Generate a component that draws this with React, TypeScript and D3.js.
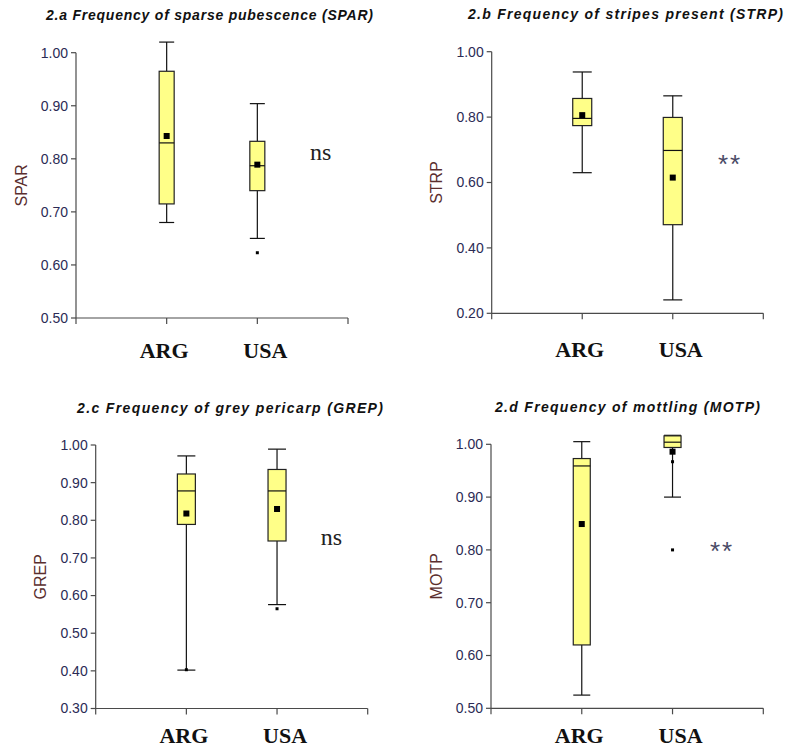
import React from "react";
import * as d3 from "d3";

// Box-plot summaries per population (ARG, USA) for each trait frequency.
type BoxStat = { low: number; q1: number; median: number; q3: number; high: number; mean: number; outliers: number[] };

const categories = ["ARG", "USA"];

const sparBoxes: BoxStat[] = [
  { low: 0.68, q1: 0.715, median: 0.83, q3: 0.965, high: 1.02, mean: 0.843, outliers: [] },
  { low: 0.65, q1: 0.74, median: 0.787, q3: 0.833, high: 0.904, mean: 0.789, outliers: [0.623] },
];
const strpBoxes: BoxStat[] = [
  { low: 0.63, q1: 0.774, median: 0.796, q3: 0.857, high: 0.938, mean: 0.806, outliers: [] },
  { low: 0.241, q1: 0.471, median: 0.698, q3: 0.799, high: 0.865, mean: 0.615, outliers: [] },
];
const grepBoxes: BoxStat[] = [
  { low: 0.402, q1: 0.789, median: 0.878, q3: 0.923, high: 0.971, mean: 0.818, outliers: [0.403] },
  { low: 0.576, q1: 0.745, median: 0.878, q3: 0.935, high: 0.989, mean: 0.83, outliers: [0.565] },
];
const motpBoxes: BoxStat[] = [
  { low: 0.525, q1: 0.62, median: 0.959, q3: 0.973, high: 1.005, mean: 0.849, outliers: [] },
  { low: 0.9, q1: 0.994, median: 1.004, q3: 1.016, high: 1.017, mean: 0.986, outliers: [0.967, 0.8] },
];

const sparTicks = [0.5, 0.6, 0.7, 0.8, 0.9, 1.0];
const strpTicks = [0.2, 0.4, 0.6, 0.8, 1.0];
const grepTicks = [0.3, 0.4, 0.5, 0.6, 0.7, 0.8, 0.9, 1.0];
const motpTicks = [0.5, 0.6, 0.7, 0.8, 0.9, 1.0];

const titles = [
  "2.a Frequency of sparse pubescence (SPAR)",
  "2.b Frequency of stripes present (STRP)",
  "2.c Frequency of grey pericarp (GREP)",
  "2.d Frequency of mottling (MOTP)",
];
const yLabels = ["SPAR", "STRP", "GREP", "MOTP"];
const significance = ["ns", "**", "ns", "**"];

// Panel geometry (pixels)
const layout = [
  { left: 76, right: 348, top: 52.7, bottom: 318, boxW: 15, titleX: 46, titleY: 20, titleW: 327, noteX: 310, noteY: 160, labelY: 358 },
  { left: 491.7, right: 763.3, top: 51.7, bottom: 313.3, boxW: 19, titleX: 468, titleY: 18.5, titleW: 315, noteX: 718, noteY: 160, labelY: 356.5 },
  { left: 95.7, right: 367.7, top: 445, bottom: 708.5, boxW: 18, titleX: 77, titleY: 413, titleW: 306, noteX: 320.7, noteY: 545, labelY: 743 },
  { left: 491, right: 763.3, top: 444.3, bottom: 708.3, boxW: 17, titleX: 495, titleY: 412, titleW: 265, noteX: 710, noteY: 547, labelY: 743 },
];

const panels = [
  { boxes: sparBoxes, ticks: sparTicks },
  { boxes: strpBoxes, ticks: strpTicks },
  { boxes: grepBoxes, ticks: grepTicks },
  { boxes: motpBoxes, ticks: motpTicks },
];

const labelNudge = [-2.5, 8];

const AXIS = "#4a4a4a";
const TICK_TEXT = "#2b2b55";
const YTITLE = "#5a2e2e";
const FILL = "#ffff88";

function Panel({ idx }: { idx: number }) {
  const g = layout[idx];
  const { boxes, ticks } = panels[idx];
  const y = d3
    .scaleLinear()
    .domain([ticks[0], ticks[ticks.length - 1]])
    .range([g.bottom, g.top]);
  const x = d3.scalePoint<string>().domain(categories).range([g.left, g.right]).padding(1);
  const fmt = d3.format(".2f");
  const note = significance[idx];

  return (
    <g>
      <text
        x={g.titleX}
        y={g.titleY}
        textLength={g.titleW}
        lengthAdjust="spacing"
        fontFamily="'Liberation Sans', Arial, sans-serif"
        fontWeight="bold"
        fontStyle="italic"
        fontSize={14}
        fill="#111"
      >
        {titles[idx]}
      </text>

      {/* y axis */}
      <line x1={g.left} x2={g.left} y1={g.top} y2={g.bottom + 6} stroke={AXIS} strokeWidth={1.2} />
      {ticks.map((t) => (
        <g key={t}>
          <line x1={g.left - 5} x2={g.left} y1={y(t)} y2={y(t)} stroke={AXIS} strokeWidth={1.2} />
          <text
            x={g.left - 8}
            y={y(t)}
            dy="0.35em"
            textAnchor="end"
            fontFamily="'Liberation Sans', Arial, sans-serif"
            fontSize={14}
            fill={TICK_TEXT}
          >
            {fmt(t)}
          </text>
        </g>
      ))}
      <text
        transform={`translate(${g.left - 55},${(g.top + g.bottom) / 2}) rotate(-90)`}
        textAnchor="middle"
        dy="0.35em"
        fontFamily="'Liberation Sans', Arial, sans-serif"
        fontSize={16}
        fill={YTITLE}
      >
        {yLabels[idx]}
      </text>

      {/* x axis */}
      <line x1={g.left} x2={g.right} y1={g.bottom} y2={g.bottom} stroke={AXIS} strokeWidth={1.2} />
      <line x1={g.right} x2={g.right} y1={g.bottom} y2={g.bottom + 6} stroke={AXIS} strokeWidth={1.2} />
      {categories.map((c, i) => (
        <g key={c}>
          <line x1={x(c)!} x2={x(c)!} y1={g.bottom} y2={g.bottom + 6} stroke={AXIS} strokeWidth={1.2} />
          <text
            x={x(c)! + labelNudge[i]}
            y={g.labelY}
            textAnchor="middle"
            fontFamily="'Liberation Serif', 'Times New Roman', serif"
            fontWeight="bold"
            fontSize={22}
            fill="#111"
          >
            {c}
          </text>
        </g>
      ))}

      {/* boxes */}
      {boxes.map((b, i) => {
        const cx = x(categories[i])!;
        const w = g.boxW;
        return (
          <g key={i}>
            <line x1={cx} x2={cx} y1={y(b.high)} y2={y(b.q3)} stroke="#111" strokeWidth={1.2} />
            <line x1={cx} x2={cx} y1={y(b.q1)} y2={y(b.low)} stroke="#111" strokeWidth={1.2} />
            <line x1={cx - w / 2} x2={cx + w / 2} y1={y(b.high)} y2={y(b.high)} stroke="#111" strokeWidth={1.2} />
            <line x1={cx - w / 2} x2={cx + w / 2} y1={y(b.low)} y2={y(b.low)} stroke="#111" strokeWidth={1.2} />
            <rect
              x={cx - w / 2}
              y={y(b.q3)}
              width={w}
              height={y(b.q1) - y(b.q3)}
              fill={FILL}
              stroke="#222"
              strokeWidth={1.2}
            />
            <line x1={cx - w / 2} x2={cx + w / 2} y1={y(b.median)} y2={y(b.median)} stroke="#111" strokeWidth={1.2} />
            <rect x={cx - 3} y={y(b.mean) - 3} width={6} height={6} fill="#000" />
            {b.outliers.map((o, k) => (
              <rect key={k} x={cx - 1.5} y={y(o) - 1.5} width={3} height={3} fill="#000" />
            ))}
          </g>
        );
      })}

      {note === "ns" ? (
        <text x={g.noteX} y={g.noteY} fontFamily="'Liberation Serif', 'Times New Roman', serif" fontSize={24} fill="#222">
          ns
        </text>
      ) : (
        <text
          x={g.noteX}
          y={g.noteY + 13}
          fontFamily="'Liberation Sans', Arial, sans-serif"
          fontSize={26}
          letterSpacing={2}
          fill="#4a4a66"
        >
          **
        </text>
      )}
    </g>
  );
}

export default function App() {
  return (
    <svg
      width={789}
      height={751}
      style={{ position: "absolute", left: 0, top: 0, background: "#fff" }}
    >
      <rect width={789} height={751} fill="#fff" />
      {panels.map((_, i) => (
        <Panel key={i} idx={i} />
      ))}
    </svg>
  );
}
